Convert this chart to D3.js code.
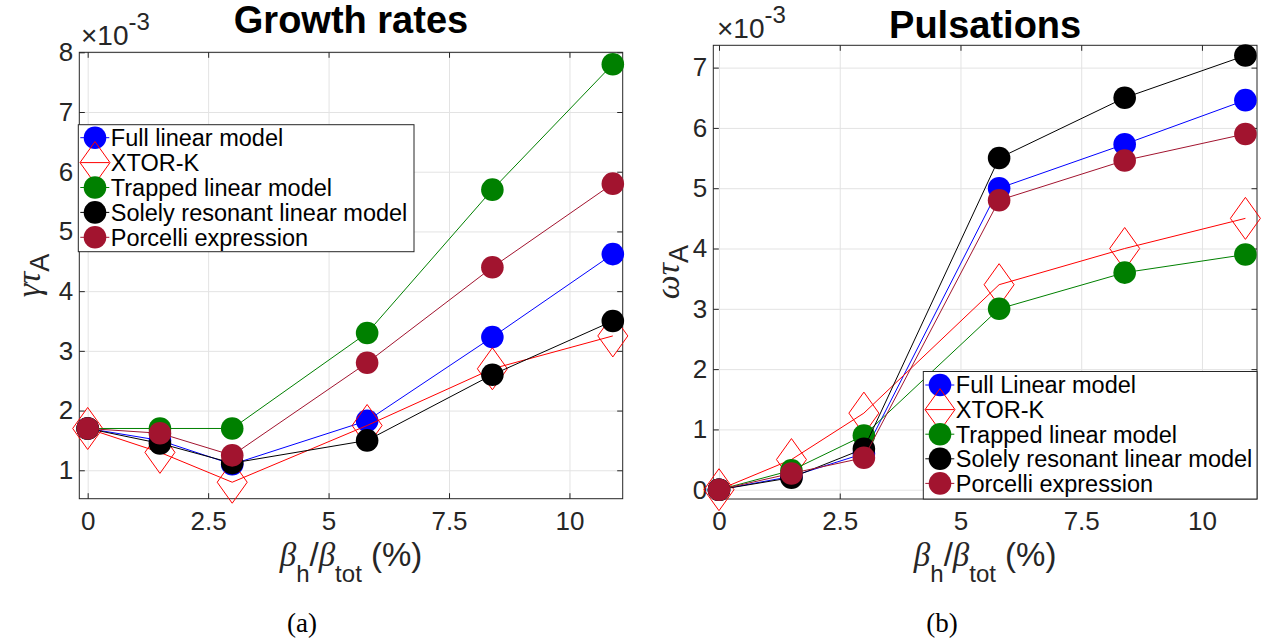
<!DOCTYPE html>
<html>
<head>
<meta charset="utf-8">
<script src="https://cdn.jsdelivr.net/npm/d3@7/dist/d3.min.js"></script>
<style>
  html, body { margin: 0; padding: 0; background: #ffffff; }
  svg { display: block; }
</style>
</head>
<body>
<svg id="chart" width="1271" height="643" font-family="'Liberation Sans', Arial, Helvetica, sans-serif"></svg>
<script>
// ---------------- DATA ----------------
const xValues = [0, 1.5, 3, 5.8, 8.4, 10.9];   // beta_h / beta_tot (%)

// Growth rates (x 1e-3)
const growthFull     = [1.7, 1.5, 1.1, 1.83, 3.23, 4.62];
const growthXtor     = [1.7, 1.3, 0.8, 1.75, 2.7, 3.25];
const growthTrapped  = [1.7, 1.7, 1.7, 3.3, 5.7, 7.8];
const growthSolely   = [1.7, 1.45, 1.12, 1.5, 2.6, 3.5];
const growthPorcelli = [1.7, 1.62, 1.25, 2.8, 4.4, 5.8];

// Pulsations (x 1e-3)
const pulsFull     = [0, 0.22, 0.6, 5.0, 5.73, 6.46];
const pulsXtor     = [0, 0.5, 1.27, 3.4, 4.0, 4.5];
const pulsTrapped  = [0, 0.32, 0.9, 3.0, 3.6, 3.9];
const pulsSolely   = [0, 0.2, 0.68, 5.5, 6.5, 7.2];
const pulsPorcelli = [0, 0.27, 0.53, 4.8, 5.46, 5.9];

const xTicks = [0, 2.5, 5, 7.5, 10];
const xTickLabels = ["0", "2.5", "5", "7.5", "10"];
const growthYTicks = [1, 2, 3, 4, 5, 6, 7, 8];
const growthYTickLabels = ["1", "2", "3", "4", "5", "6", "7", "8"];
const pulsYTicks = [0, 1, 2, 3, 4, 5, 6, 7];
const pulsYTickLabels = ["0", "1", "2", "3", "4", "5", "6", "7"];

const growthLegend = ["Full linear model", "XTOR-K", "Trapped linear model", "Solely resonant linear model", "Porcelli expression"];
const pulsLegend   = ["Full Linear model", "XTOR-K", "Trapped linear model", "Solely resonant linear model", "Porcelli expression"];
const seriesColors = ["#0000ff", "#ff0000", "#008000", "#000000", "#a2142f"];
const seriesMarkers = ["circle", "diamond", "circle", "circle", "circle"];

// ---------------- DRAW ----------------
const SANS = "'Liberation Sans', Arial, Helvetica, sans-serif";
const SERIF = "'Liberation Serif', 'Times New Roman', serif";
const svg = d3.select("#chart");

function drawPanel(cfg) {
  const g = svg.append("g");
  const x = d3.scaleLinear().domain(cfg.xDomain).range([cfg.left, cfg.right]);
  const y = d3.scaleLinear().domain(cfg.yDomain).range([cfg.bottom, cfg.top]);
  const w = cfg.right - cfg.left, h = cfg.bottom - cfg.top;

  // grid
  const gx = g.append("g").attr("transform", `translate(0,${cfg.bottom})`)
    .call(d3.axisBottom(x).tickValues(xTicks).tickSize(-h).tickFormat(""));
  const gy = g.append("g").attr("transform", `translate(${cfg.left},0)`)
    .call(d3.axisLeft(y).tickValues(cfg.yTicks).tickSize(-w).tickFormat(""));
  [gx, gy].forEach(a => { a.select(".domain").remove(); a.selectAll("line").attr("stroke", "#e3e3e3").attr("stroke-width", 1); });

  // box
  g.append("rect").attr("x", cfg.left).attr("y", cfg.top).attr("width", w).attr("height", h)
    .attr("fill", "none").attr("stroke", "#262626").attr("stroke-width", 1);

  // axes with inward ticks
  const tick = 5.5;
  const ab = g.append("g").attr("transform", `translate(0,${cfg.bottom})`)
    .call(d3.axisBottom(x).tickValues(xTicks).tickFormat((d, i) => xTickLabels[i]).tickSizeInner(-tick).tickSizeOuter(0).tickPadding(13));
  const at = g.append("g").attr("transform", `translate(0,${cfg.top})`)
    .call(d3.axisTop(x).tickValues(xTicks).tickFormat("").tickSizeInner(-tick).tickSizeOuter(0));
  const al = g.append("g").attr("transform", `translate(${cfg.left},0)`)
    .call(d3.axisLeft(y).tickValues(cfg.yTicks).tickFormat((d, i) => cfg.yTickLabels[i]).tickSizeInner(-tick).tickSizeOuter(0).tickPadding(6));
  const ar = g.append("g").attr("transform", `translate(${cfg.right},0)`)
    .call(d3.axisRight(y).tickValues(cfg.yTicks).tickFormat("").tickSizeInner(-tick).tickSizeOuter(0));
  [ab, at, al, ar].forEach(a => {
    a.select(".domain").remove();
    a.selectAll("line").attr("stroke", "#262626");
    a.attr("font-family", SANS).attr("font-size", 26);
    a.selectAll("text").attr("fill", "#262626");
  });

  // series
  const line = d3.line().x(d => x(d[0])).y(d => y(d[1]));
  cfg.series.forEach((vals, si) => {
    const pts = xValues.map((xv, i) => [xv, vals[i]]);
    const col = seriesColors[si];
    g.append("path").datum(pts).attr("d", line).attr("fill", "none")
      .attr("stroke", col).attr("stroke-width", 1);
    if (seriesMarkers[si] === "circle") {
      g.selectAll(null).data(pts).enter().append("circle")
        .attr("cx", d => x(d[0])).attr("cy", d => y(d[1])).attr("r", 11.3)
        .attr("fill", col);
    } else {
      g.selectAll(null).data(pts).enter().append("path")
        .attr("d", d => { const cx = x(d[0]), cy = y(d[1]); return `M${cx},${cy-21}L${cx+15},${cy}L${cx},${cy+21}L${cx-15},${cy}Z`; })
        .attr("fill", "none").attr("stroke", col).attr("stroke-width", 1);
    }
  });

  // exponent label
  const ex = g.append("text").attr("x", cfg.expX).attr("y", cfg.expY).attr("font-size", 28).attr("fill", "#262626");
  ex.append("tspan").text("×10");
  ex.append("tspan").attr("dy", -15).attr("font-size", 24).text("-3");

  // title
  g.append("text").attr("x", (cfg.left + cfg.right) / 2).attr("y", cfg.titleY)
    .attr("text-anchor", "middle").attr("font-weight", "bold").attr("font-size", 38).attr("fill", "#000")
    .text(cfg.title);

  // y label
  const yl = g.append("text").attr("transform", `translate(${cfg.ylabX},${(cfg.top + cfg.bottom) / 2}) rotate(-90)`)
    .attr("text-anchor", "middle").attr("fill", "#262626");
  yl.append("tspan").attr("font-family", SERIF).attr("font-style", "italic").attr("font-size", 34).text(cfg.ylabGreek);
  yl.append("tspan").attr("font-size", 27).attr("dy", 9).text("A");

  // x label
  const xl = g.append("text").attr("x", (cfg.left + cfg.right) / 2).attr("y", 566)
    .attr("text-anchor", "middle").attr("font-size", 33).attr("fill", "#262626");
  xl.append("tspan").attr("font-family", SERIF).attr("font-style", "italic").text("β");
  xl.append("tspan").attr("font-size", 24).attr("dy", 16).text("h");
  xl.append("tspan").attr("dy", -16).text("/");
  xl.append("tspan").attr("font-family", SERIF).attr("font-style", "italic").text("β");
  xl.append("tspan").attr("font-size", 24).attr("dy", 16).text("tot");
  xl.append("tspan").attr("dy", -16).text(" (%)");

  // legend
  const lg = g.append("g");
  lg.append("rect").attr("x", cfg.legX).attr("y", cfg.legY).attr("width", cfg.legW).attr("height", cfg.legH)
    .attr("fill", "#fff").attr("stroke", "#262626").attr("stroke-width", 1);
  cfg.legend.forEach((lab, i) => {
    const cy = cfg.legY + cfg.legRow0 + i * cfg.legStep;
    const cx = cfg.legX + 16.7;
    const col = seriesColors[i];
    lg.append("line").attr("x1", cfg.legX + 2).attr("x2", cfg.legX + 31).attr("y1", cy).attr("y2", cy)
      .attr("stroke", col).attr("stroke-width", 1);
    if (seriesMarkers[i] === "circle") {
      lg.append("circle").attr("cx", cx).attr("cy", cy).attr("r", 11.3).attr("fill", col);
    } else {
      lg.append("path").attr("d", `M${cx},${cy-21}L${cx+15},${cy}L${cx},${cy+21}L${cx-15},${cy}Z`)
        .attr("fill", "none").attr("stroke", col).attr("stroke-width", 1);
    }
    lg.append("text").attr("x", cfg.legX + 32.5).attr("y", cy).attr("dy", "0.36em")
      .attr("font-size", 23.5).attr("fill", "#000").text(lab);
  });
}

drawPanel({
  left: 79.3, right: 622.7, top: 52.3, bottom: 498.7,
  xDomain: [-0.174, 11.105], yDomain: [0.524, 8],
  yTicks: growthYTicks, yTickLabels: growthYTickLabels,
  series: [growthFull, growthXtor, growthTrapped, growthSolely, growthPorcelli],
  title: "Growth rates", titleY: 33,
  expX: 81, expY: 45,
  ylabX: 40, ylabGreek: "γτ",
  legend: growthLegend, legX: 78.3, legY: 124.7, legW: 335.7, legH: 127, legRow0: 13, legStep: 24.9
});

drawPanel({
  left: 713.3, right: 1257, top: 45.3, bottom: 499,
  xDomain: [-0.118, 11.14], yDomain: [-0.154, 7.37],
  yTicks: pulsYTicks, yTickLabels: pulsYTickLabels,
  series: [pulsFull, pulsXtor, pulsTrapped, pulsSolely, pulsPorcelli],
  title: "Pulsations", titleY: 38,
  expX: 717, expY: 38,
  ylabX: 679, ylabGreek: "ωτ",
  legend: pulsLegend, legX: 923.3, legY: 371.5, legW: 333.7, legH: 127.5, legRow0: 13.5, legStep: 24.6
});

// captions
const captions = ["(a)", "(b)"];
const captionX = [302, 942];
captions.forEach((c, i) => {
  svg.append("text").attr("x", captionX[i]).attr("y", 632).attr("text-anchor", "middle")
    .attr("font-family", SERIF).attr("font-size", 27).attr("fill", "#000").text(c);
});
</script>
</body>
</html>
